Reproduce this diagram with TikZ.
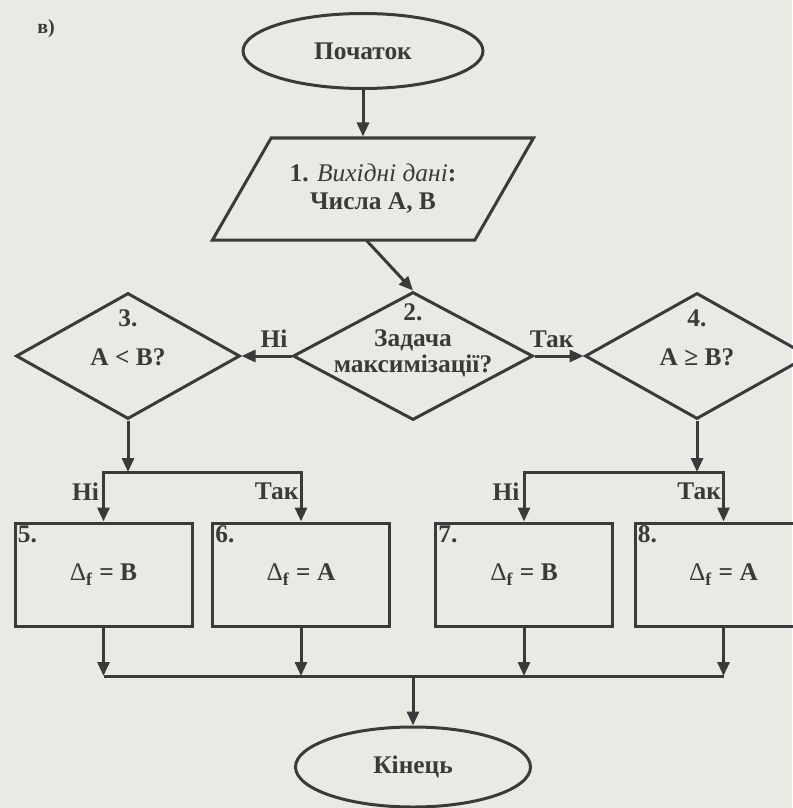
\documentclass[tikz,border=0pt]{standalone}
\usepackage{fontspec}
\setmainfont{Liberation Serif}
\usetikzlibrary{shapes.geometric,arrows.meta}

\definecolor{paper}{RGB}{234,234,229}
\definecolor{ink}{RGB}{58,58,58}

\tikzstyle{terminal} = [ellipse,draw=ink,line width=1.5pt]
\tikzstyle{io} = [trapezium,trapezium left angle=47,trapezium right angle=133,trapezium stretches body,draw=ink,line width=1.5pt,minimum width=160.5pt,minimum height=51pt,align=center]
\tikzstyle{decision} = [diamond,draw=ink,line width=1.5pt,minimum width=112pt,minimum height=63pt,inner sep=0pt]
\tikzstyle{block} = [rectangle,draw=ink,line width=1.5pt,minimum width=88.5pt,minimum height=51.5pt]
\tikzstyle{lno} = [anchor=north west,inner sep=2pt]
\tikzstyle{arrow} = [draw=ink,line width=1.5pt,-{Triangle[length=7pt,width=6pt]}]
\tikzstyle{line} = [draw=ink,line width=1.5pt]

\newcommand{\df}{{\mdseries Δ}\textsubscript{f}}

\begin{document}
\begin{tikzpicture}[x=0.5pt,y=-0.5pt,font=\bfseries\fontsize{12.7}{13}\selectfont,color=ink]
	\useasboundingbox[fill=paper] (0,0) rectangle (792,808);
	
	\node[font=\bfseries\fontsize{10}{12}\selectfont] (tag) at (46,29) {в)};
	
	\node[terminal,minimum width=120pt,minimum height=37.5pt] (start) at (363,51) {Початок};
	\node[io] (n1) at (373,189) {1. \textit{\mdseries Вихідні дані}:\\[1pt] Числа А, В};
	
	\node[decision,minimum width=120pt,minimum height=64pt] (n2) at (413,356) {};
	\node[align=center] (t2) at (413,340) {2.\\Задача\\максимізації?};
	
	\node[decision] (n3) at (128,356) {};
	\node (t3a) at (128,318) {3.};
	\node (t3b) at (128,357) {A < B?};
	
	\node[decision] (n4) at (697,356) {};
	\node (t4a) at (697,318) {4.};
	\node (t4b) at (697,357) {A ≥ B?};
	
	\node[block,label={[lno]north west:5.}] (n5) at (103.5,574.5) {\df{} = B};
	\node[block,label={[lno]north west:6.}] (n6) at (301,574.5) {\df{} = A};
	\node[block,label={[lno]north west:7.}] (n7) at (524,574.5) {\df{} = B};
	\node[block,label={[lno]north west:8.}] (n8) at (723.5,574.5) {\df{} = A};
	
	\node[terminal,minimum width=117.5pt,minimum height=40pt] (end) at (413,767) {Кінець};
	
	\coordinate (o1) at (367,241);
	\coordinate (b3) at (128,472);
	\coordinate (b4) at (697,472);
	\coordinate (m) at (413,676);
	
	\draw[arrow] (start) -- (start |- n1.north);
	\draw[arrow] (o1) -- (n2.north);
	\draw[arrow] (n2.west) -- node[above,pos=0.35] {Ні} (n3.east);
	\draw[arrow] (n2.east) -- node[above,pos=0.35] {Так} (n4.west);
	
	\draw[arrow] (n3.south) -- (b3);
	\draw[arrow] (b3) -| node[left,pos=0.7,inner sep=1.5pt] {Ні} (n5.north);
	\draw[arrow] (b3) -| node[left,pos=0.7,inner sep=0.5pt] {Так} (n6.north);
	\draw[arrow] (n4.south) -- (b4);
	\draw[arrow] (b4) -| node[left,pos=0.7,inner sep=1.5pt] {Ні} (n7.north);
	\draw[arrow] (b4) -| node[left,pos=0.7,inner sep=0.5pt] {Так} (n8.north);
	
	\draw[arrow] (n5.south) -- (n5.south |- m);
	\draw[arrow] (n6.south) -- (n6.south |- m);
	\draw[arrow] (n7.south) -- (n7.south |- m);
	\draw[arrow] (n8.south) -- (n8.south |- m);
	\draw[line] (n5.south |- m) -- (n8.south |- m);
	\draw[arrow] (m) -- (end.north);
\end{tikzpicture}
\end{document}
